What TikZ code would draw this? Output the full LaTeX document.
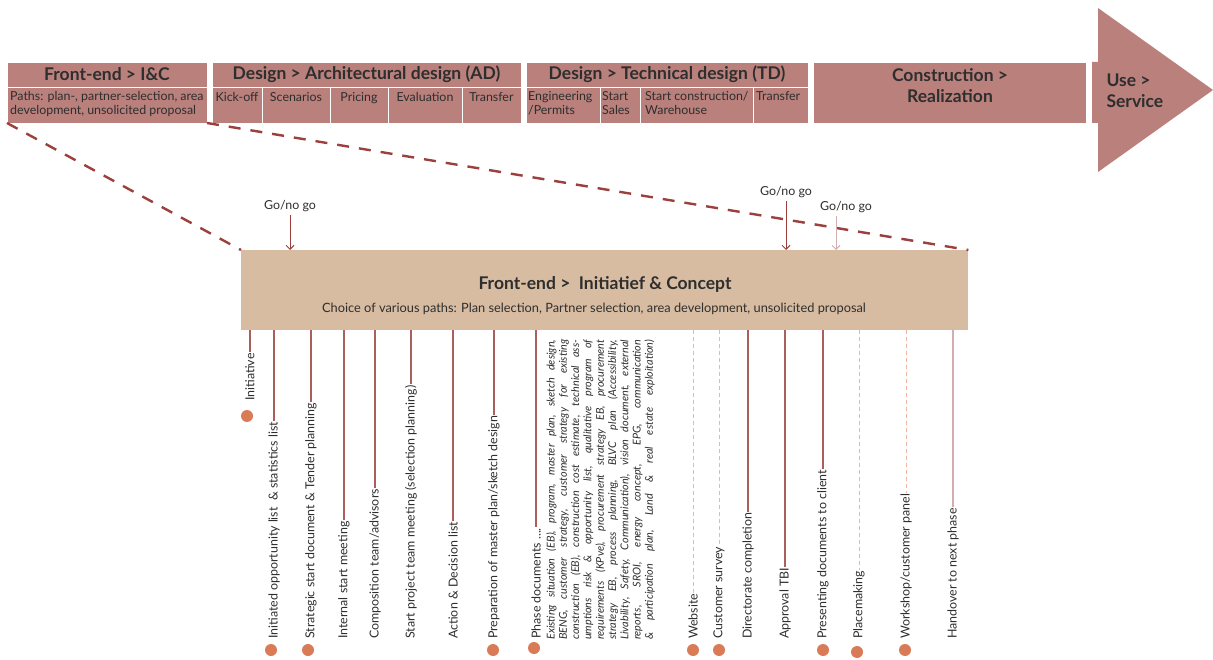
\documentclass[tikz,border=0pt]{standalone}
\usepackage{fontspec}
\setmainfont{Lato}
\usetikzlibrary{arrows.meta, positioning, calc}

\definecolor{rose}{HTML}{B9807C}
\definecolor{tan}{HTML}{D7BCA2}
\definecolor{ink}{HTML}{2E2E2E}
\definecolor{zoomc}{HTML}{9B403C}
\definecolor{stemc}{HTML}{A8605C}
\definecolor{palec}{HTML}{F2B5A2}
\definecolor{handc}{HTML}{D4AEAE}
\definecolor{dotc}{HTML}{DA7B58}

\tikzstyle{head} = [rectangle, fill=rose, draw=white, line width=0.8pt, outer sep=0pt, inner sep=0pt, minimum height=25pt, text=ink, font=\fontsize{17.5}{20}\selectfont\bfseries]
\tikzstyle{subcell} = [rectangle, fill=rose, draw=white, line width=0.8pt, outer sep=0pt, inner sep=0pt, minimum height=36pt]
\tikzstyle{subtext} = [anchor=north, inner sep=0pt, text=ink, font=\fontsize{12.4}{14.5}\selectfont]
\tikzstyle{zoomline} = [draw=zoomc, line width=2.4pt, dash pattern=on 12pt off 10pt]
\tikzstyle{gonogo} = [draw=zoomc, line width=0.9pt, -{Straight Barb[length=4pt,width=8pt]}]
\tikzstyle{gotext} = [text=ink, font=\fontsize{12.4}{14}\selectfont]
\tikzstyle{item} = [rotate=90, anchor=west, inner sep=1pt, text=ink, font=\fontsize{12.4}{14}\selectfont]
\tikzstyle{stem} = [draw=stemc, line width=1.1pt]
\tikzstyle{optstem} = [draw=palec, line width=1pt, dash pattern=on 4pt off 3pt]
\tikzstyle{laststem} = [draw=handc, line width=2pt]
\tikzstyle{milestone} = [circle, fill=dotc, minimum size=12pt, inner sep=0pt]

\newcommand{\fullline}[1]{\makebox[300pt][s]{#1}}

\begin{document}
\begin{tikzpicture}[x=1pt, y=-1pt]
    \useasboundingbox[fill=white] (0,0) rectangle (1213,660);

    % Phase bar: front-end
    \node (fehead) [head, minimum width=200pt, anchor=north west] at (7,62) {Front-end > I\&C};
    \node (fesub) [subcell, minimum width=200pt, below=0pt of fehead] {};
    \node (fetext) [subtext, anchor=north west, align=left] at ($(fesub.north west)+(3,4)$) {Paths: plan-, partner-selection, area\\development, unsolicited proposal};

    % Phase bar: architectural design
    \node (adhead) [head, minimum width=309pt, anchor=north west] at (212,62) {Design > Architectural design (AD)};
    \node (ad1) [subcell, minimum width=50pt, anchor=north west] at (adhead.south west) {};
    \node (ad2) [subcell, minimum width=68pt, right=0pt of ad1] {};
    \node (ad3) [subcell, minimum width=58pt, right=0pt of ad2] {};
    \node (ad4) [subcell, minimum width=74pt, right=0pt of ad3] {};
    \node (ad5) [subcell, minimum width=59pt, right=0pt of ad4] {};
    \node (ad1t) [subtext] at ($(ad1.north)+(0,5)$) {Kick-off};
    \node (ad2t) [subtext] at ($(ad2.north)+(0,5)$) {Scenarios};
    \node (ad3t) [subtext] at ($(ad3.north)+(0,5)$) {Pricing};
    \node (ad4t) [subtext] at ($(ad4.north)+(0,5)$) {Evaluation};
    \node (ad5t) [subtext] at ($(ad5.north)+(0,5)$) {Transfer};

    % Phase bar: technical design
    \node (tdhead) [head, minimum width=282pt, anchor=north west] at (526,62) {Design > Technical design (TD)};
    \node (td1) [subcell, minimum width=74pt, anchor=north west] at (tdhead.south west) {};
    \node (td2) [subcell, minimum width=40pt, right=0pt of td1] {};
    \node (td3) [subcell, minimum width=113pt, right=0pt of td2] {};
    \node (td4) [subcell, minimum width=55pt, right=0pt of td3] {};
    \node (td1t) [subtext, anchor=north west, align=left] at ($(td1.north west)+(2,4)$) {Engineering\\/Permits};
    \node (td2t) [subtext, anchor=north west, align=left] at ($(td2.north west)+(2,4)$) {Start\\Sales};
    \node (td3t) [subtext, anchor=north west, align=left] at ($(td3.north west)+(5,4)$) {Start construction/\\Warehouse};
    \node (td4t) [subtext, anchor=north west, align=left] at ($(td4.north west)+(3,4)$) {Transfer};

    % Phase bar: realization and use
    \node (cons) [head, minimum width=273pt, minimum height=61pt, anchor=north west] at (813,62) {};
    \node (const) [text=ink, align=center, font=\fontsize{17.5}{21}\selectfont\bfseries] at (950,86) {Construction >\\Realization};
    \fill[rose] (1092,62) -- (1098,62) -- (1098,8) -- (1213,90) -- (1098,172) -- (1098,123) -- (1092,123) -- cycle;
    \node (use) [anchor=west, text=ink, align=left, font=\fontsize{17.5}{21}\selectfont\bfseries] at (1103,91) {Use >\\Service};

    % Front-end detail box
    \node (front) [fill=tan, minimum width=727pt, minimum height=80pt, anchor=north west, inner sep=0pt] at (241,250) {};
    \node (fronttitle) [text=ink, font=\fontsize{17.5}{20}\selectfont\bfseries] at (605,284) {Front-end >\ \ Initiatief \& Concept};
    \node (frontsub) [text=ink, font=\fontsize{12.8}{15}\selectfont] at (594,309) {Choice of various paths: Plan selection, Partner selection, area development, unsolicited proposal};
    \draw[zoomline] (fesub.south west) -- (front.north west);
    \draw[zoomline] (fesub.south east) -- (front.north east);

    % Go/no go moments
    \node (go1) [gotext] at (290,206) {Go/no go};
    \node (go2) [gotext] at (786,192) {Go/no go};
    \node (go3) [gotext] at (846,207) {Go/no go};
    \draw[gonogo] (go1) -- (go1 |- front.north);
    \draw[gonogo] (go2) -- (go2 |- front.north);
    \draw[gonogo, draw=handc] (836,216) coordinate (go3top) -- (go3top |- front.north);

    % Activities
    \node (initiative) [item] at (250,402) {Initiative};
    \node (opportunity) [item] at (274,640) {Initiated opportunity list\ \ \& statistics list};
    \node (strategic) [item] at (311,640) {Strategic start document \& Tender planning};
    \node (internal) [item] at (344,640) {Internal start meeting};
    \node (composition) [item] at (375,640) {Composition team/advisors};
    \node (projectteam) [item] at (411,640) {Start project team meeting (selection planning)};
    \node (actions) [item] at (453,640) {Action \& Decision list};
    \node (masterplan) [item] at (494,640) {Preparation of master plan/sketch design};
    \node (phasedocs) [item] at (536,640) {Phase documents ....};
    \node (phasetext) [rotate=90, anchor=north west, inner sep=0pt, text=ink, align=left, font=\fontsize{10.8}{12.3}\selectfont\itshape] at (546,640) {%
        \fullline{Existing situation (EB), program, master plan, sketch design,}\\
        \fullline{BENG, customer strategy, customer strategy for existing}\\
        \fullline{construction (EB), construction cost estimate, technical ass-}\\
        \fullline{umptions risk \& opportunity list, qualitative program of}\\
        \fullline{requirements (KPve), procurement strategy EB, procurement}\\
        \fullline{strategy EB, process planning, BLVC plan (Accessibility,}\\
        \fullline{Livability, Safety, Communication), vision document, external}\\
        \fullline{reports, SROI, energy concept, EPG, communication}\\
        \fullline{\& participation plan, Land \& real estate exploitation)}};
    \node (website) [item] at (693,640) {Website};
    \node (survey) [item] at (719,640) {Customer survey};
    \node (directorate) [item] at (748,640) {Directorate completion};
    \node (approval) [item] at (785,640) {Approval TBI};
    \node (presenting) [item] at (823,640) {Presenting documents to client};
    \node (placemaking) [item] at (859,640) {Placemaking};
    \node (workshop) [item] at (906,640) {Workshop/customer panel};
    \node (handover) [item] at (953,640) {Handover to next phase};

    % Stems from the box
    \draw[stem] (initiative.east |- front.south) -- (initiative.east);
    \draw[stem] (opportunity.east |- front.south) -- (opportunity.east);
    \draw[stem] (strategic.east |- front.south) -- (strategic.east);
    \draw[stem] (internal.east |- front.south) -- (internal.east);
    \draw[stem] (composition.east |- front.south) -- (composition.east);
    \draw[stem] (projectteam.east |- front.south) -- (projectteam.east);
    \draw[stem] (actions.east |- front.south) -- (actions.east);
    \draw[stem] (masterplan.east |- front.south) -- (masterplan.east);
    \draw[stem] (phasedocs.east |- front.south) -- (phasedocs.east);
    \draw[optstem] (website.east |- front.south) -- (website.east);
    \draw[optstem] (survey.east |- front.south) -- (survey.east);
    \draw[stem] (directorate.east |- front.south) -- (directorate.east);
    \draw[stem] (approval.east |- front.south) -- (approval.east);
    \draw[stem] (presenting.east |- front.south) -- (presenting.east);
    \draw[optstem] (placemaking.east |- front.south) -- (placemaking.east);
    \draw[optstem] (workshop.east |- front.south) -- (workshop.east);
    \draw[laststem] (handover.east |- front.south) -- (handover.east);

    % Milestone dots
    \node (m1) [milestone] at ($(initiative.west)+(-3,14)$) {};
    \node (m2) [milestone] at ($(opportunity.west)+(-3,10)$) {};
    \node (m3) [milestone] at ($(strategic.west)+(-3,10)$) {};
    \node (m4) [milestone] at ($(masterplan.west)+(-1,10)$) {};
    \node (m5) [milestone] at ($(phasedocs.west)+(-2,8)$) {};
    \node (m6) [milestone] at ($(website.west)+(0,10)$) {};
    \node (m7) [milestone] at ($(survey.west)+(0,10)$) {};
    \node (m8) [milestone] at ($(presenting.west)+(0,10)$) {};
    \node (m9) [milestone] at ($(placemaking.west)+(-2,12)$) {};
    \node (m10) [milestone] at ($(workshop.west)+(-1,10)$) {};
\end{tikzpicture}
\end{document}
